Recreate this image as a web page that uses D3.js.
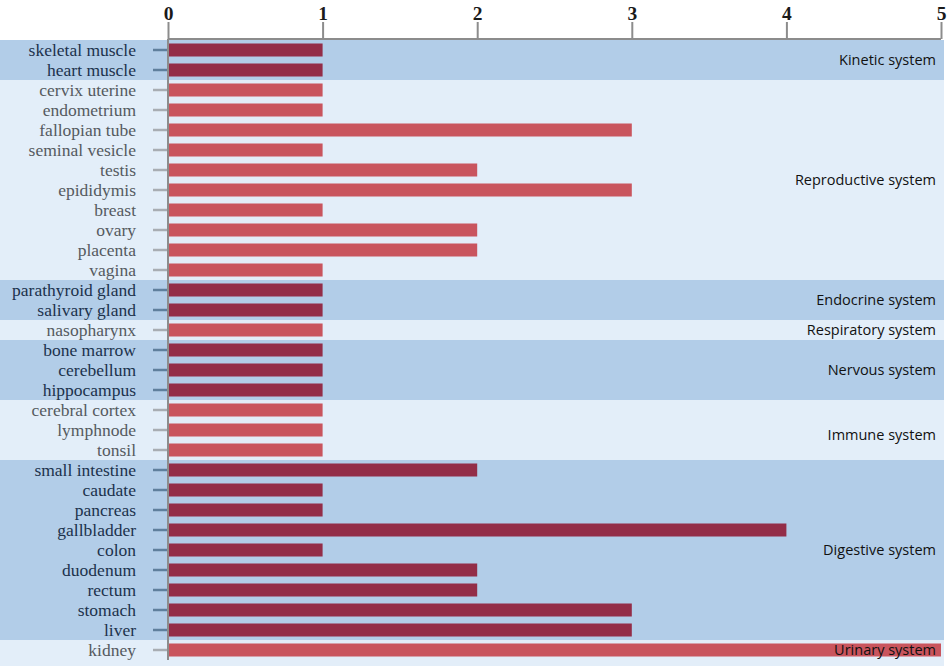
<!DOCTYPE html>
<html>
<head>
<meta charset="utf-8">
<script src="https://cdn.jsdelivr.net/npm/d3@7"></script>
<style>
  body { margin: 0; background: #fff; }
</style>
</head>
<body>
<div id="chart"></div>
<script>
// tissues top to bottom, with counts
const tissues = ["skeletal muscle", "heart muscle", "cervix uterine", "endometrium", "fallopian tube",
  "seminal vesicle", "testis", "epididymis", "breast", "ovary", "placenta", "vagina",
  "parathyroid gland", "salivary gland", "nasopharynx", "bone marrow", "cerebellum", "hippocampus",
  "cerebral cortex", "lymphnode", "tonsil", "small intestine", "caudate", "pancreas", "gallbladder",
  "colon", "duodenum", "rectum", "stomach", "liver", "kidney"]
const counts = [1, 1, 1, 1, 3, 1, 2, 3, 1, 2, 2, 1, 1, 1, 1, 1, 1, 1, 1, 1, 1, 2, 1, 1, 4, 1, 2, 2, 3, 3, 5]

// systems and how many tissues each one holds
const systems = ["Kinetic system", "Reproductive system", "Endocrine system", "Respiratory system",
  "Nervous system", "Immune system", "Digestive system", "Urinary system"]
const systemSizes = [2, 10, 2, 1, 3, 3, 9, 1]

const xTicks = [0, 1, 2, 3, 4, 5]

const width = 948, height = 669
const margin = { top: 40, left: 168, right: 7, bottom: 9 }

const svg = d3.select("#chart").append("svg")
  .attr("width", width)
  .attr("height", height)

const x = d3.scaleLinear([0, 5], [margin.left, width - margin.right])
const y = d3.scaleBand(tissues, [margin.top, margin.top + 20 * tissues.length])

// build group spans from the sizes
let start = 0
const groups = systems.map((name, i) => {
  const g = { name: name, first: start, last: start + systemSizes[i] - 1, dark: i % 2 === 0 }
  start += systemSizes[i]
  return g
})
const groupOf = tissues.map((t, i) => groups.find(g => i >= g.first && i <= g.last))

const bandDark = "#b2cde8", bandLight = "#e3eef9"
const barDark = "#932d48", barLight = "#c9555e"

// background bands
svg.selectAll("rect.band")
  .data(groups)
  .join("rect")
  .attr("class", "band")
  .attr("x", 0)
  .attr("width", 944)
  .attr("y", g => y(tissues[g.first]))
  .attr("height", (g, i) => y(tissues[g.last]) + y.bandwidth() - y(tissues[g.first]) + (i === groups.length - 1 ? 6 : 0))
  .attr("fill", g => g.dark ? bandDark : bandLight)

// bars
svg.selectAll("rect.bar")
  .data(tissues)
  .join("rect")
  .attr("class", "bar")
  .attr("x", x(0))
  .attr("y", d => y(d) + (y.bandwidth() - 13) / 2)
  .attr("height", 13)
  .attr("width", (d, i) => x(counts[i]) - x(0))
  .attr("fill", (d, i) => groupOf[i].dark ? barDark : barLight)

// left ticks and labels
svg.selectAll("line.ytick")
  .data(tissues)
  .join("line")
  .attr("class", "ytick")
  .attr("x1", 153).attr("x2", 167)
  .attr("y1", d => y(d) + y.bandwidth() / 2)
  .attr("y2", d => y(d) + y.bandwidth() / 2)
  .attr("stroke", (d, i) => groupOf[i].dark ? "#5f7f9c" : "#a8adb3")
  .attr("stroke-width", 2.5)

svg.selectAll("text.ylabel")
  .data(tissues)
  .join("text")
  .attr("class", "ylabel")
  .attr("x", 136)
  .attr("y", d => y(d) + y.bandwidth() / 2)
  .attr("dy", "0.35em")
  .attr("text-anchor", "end")
  .attr("font-family", "Liberation Serif, Times New Roman, serif")
  .attr("font-size", 17.5)
  .attr("fill", (d, i) => groupOf[i].dark ? "#1c324c" : "#555a60")
  .text(d => d)

// vertical axis line
svg.append("line")
  .attr("x1", x(0)).attr("x2", x(0))
  .attr("y1", margin.top - 1)
  .attr("y2", y(tissues[tissues.length - 1]) + y.bandwidth())
  .attr("stroke", "#8c8c8c")
  .attr("stroke-width", 2)

// top axis
const xAxis = svg.append("g")
  .attr("transform", `translate(0,${margin.top - 1})`)
  .call(d3.axisTop(x).tickValues(xTicks).tickFormat(d3.format("d")).tickSize(17).tickPadding(2))
xAxis.select(".domain").attr("stroke", "#8c8c8c").attr("stroke-width", 2)
  .attr("d", `M${x(0)},0H${x(5)}`)
xAxis.selectAll(".tick line").attr("stroke", "#8c8c8c").attr("stroke-width", 2)
xAxis.selectAll(".tick text")
  .attr("font-family", "Liberation Serif, Times New Roman, serif")
  .attr("font-weight", "bold")
  .attr("font-size", 19.5)
  .attr("fill", "#1a1a1a")

// system names on the right
svg.selectAll("text.sys")
  .data(groups)
  .join("text")
  .attr("class", "sys")
  .attr("x", 936)
  .attr("y", g => (y(tissues[g.first]) + y(tissues[g.last]) + y.bandwidth()) / 2 + (g.name === "Immune system" ? 5 : 0))
  .attr("dy", "0.35em")
  .attr("text-anchor", "end")
  .attr("font-family", "Open Sans, Noto Sans, sans-serif")
  .attr("font-size", 14.5)
  .attr("fill", "#111")
  .text(g => g.name)
</script>
</body>
</html>
